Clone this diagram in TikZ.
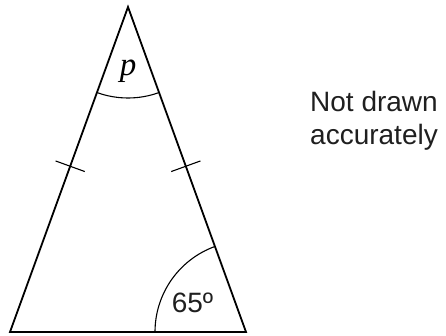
\documentclass[tikz,border=0pt]{standalone}
\usepackage{fontspec}
\setmainfont{Liberation Sans}
\newfontfamily\seriffont{Liberation Serif}
\usetikzlibrary{calc}

\begin{document}
\begin{tikzpicture}[
    x=1pt, y=1pt,
    side/.style={line width=1.8pt, line join=miter},
    anglearc/.style={line width=1.1pt},
    tickmark/.style={line width=1.1pt},
    anglelabel/.style={font=\fontsize{28}{33}\selectfont, inner sep=0pt},
    note/.style={font=\fontsize{28}{33}\selectfont, inner sep=0pt, anchor=base west, text=black!88}
]
\useasboundingbox (0,0) rectangle (446,336);

% vertices
\coordinate (apex) at (128,329);
\coordinate (bl) at (10,4);
\coordinate (br) at (246,4);

\draw[side] (apex) -- (bl) -- (br) -- cycle;

% angle arcs
\draw[anglearc] ($(apex)!91pt!(bl)$) arc[start angle=250.04, end angle=289.96, radius=91];
\draw[anglearc] ($(br)!91pt!(bl)$) arc[start angle=180, end angle=109.96, radius=91];

% equal sides
\draw[tickmark] ($(apex)!0.49!(bl)!15.5pt!90:(bl)$) -- ($(apex)!0.49!(bl)!15.5pt!-90:(bl)$);
\draw[tickmark] ($(apex)!0.49!(br)!15.5pt!90:(br)$) -- ($(apex)!0.49!(br)!15.5pt!-90:(br)$);

% labels
\node[anglelabel, font=\fontsize{33}{36}\seriffont\itshape] (p) at (128,265) {p};
\node[anglelabel, anchor=base, text=black!88] (base) at (192.5,23) {65º};

\node[note] (note1) at (310,224) {Not drawn};
\node[note] (note2) at (310,191) {accurately};
\end{tikzpicture}
\end{document}
